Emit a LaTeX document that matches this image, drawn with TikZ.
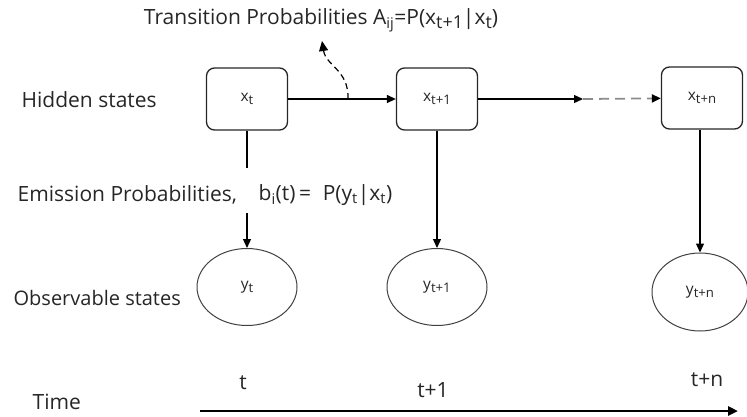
\documentclass[tikz,border=0pt]{standalone}
\usepackage{fontspec}
\setmainfont{Open Sans}
\usetikzlibrary{arrows.meta, shapes.geometric}

\newcommand{\idx}[1]{\raisebox{-0.4ex}{\scalebox{0.85}{#1}}}

\begin{document}
\begin{tikzpicture}[x=1pt, y=-1pt, >={Triangle[length=9pt, width=8pt]}, line width=1.3pt, font=\fontsize{21}{25}\selectfont, text=black!85]
	\tikzstyle{hidden}=[draw=black!85, rounded corners=8pt, minimum width=81pt, minimum height=62pt, inner sep=0pt, font=\fontsize{15.5}{18}\selectfont]
	\tikzstyle{observed}=[draw=black!75, ellipse, line width=1pt, minimum width=100pt, minimum height=77pt, inner sep=0pt, font=\fontsize{15.5}{18}\selectfont]
	\tikzstyle{label}=[inner sep=0pt, anchor=west]

	\useasboundingbox (0,0) rectangle (747,416);

	\node[hidden] at (247, 99)  (xt)  {x\idx{t}};
	\node[hidden] at (437, 99)  (xt1) {x\idx{t+1}};
	\node[hidden] at (702, 98)  (xtn) {x\idx{t+n}};

	\node[observed] at (247, 287) (yt)  {y\idx{t}};
	\node[observed] at (437, 287) (yt1) {y\idx{t+1}};
	\node[observed, minimum width=96pt, minimum height=78pt] at (700, 292) (ytn) {y\idx{t+n}};

	\node[anchor=center, inner sep=0pt] at (321, 20) (trans) {Transition Probabilities A\textsubscript{ij}=P(x\idx{t+1}|x\idx{t})};
	\node[label] at (21, 100)  (hid) {Hidden states};
	\node[label] at (17, 195)  (em)  {Emission Probabilities,};
	\node[label] at (258, 195) (emeq) {b\textsubscript{i}(t)\,=\;\;P(y\textsubscript{t}|x\textsubscript{t})};
	\node[label, font=\fontsize{20}{24}\selectfont] at (13, 298)  (obs) {Observable states};
	\node[label] at (32, 402)  (time) {Time};

	\node at (243, 383) (tt)  {t};
	\node at (433, 390) (tt1) {t+1};
	\node at (707, 380) (ttn) {t+n};

	\coordinate (emtop) at (247, 168);
	\coordinate (embot) at (247, 213);
	\coordinate (dots)  at (583, 99);
	\coordinate (trbase) at (348, 99);
	\coordinate (trtip)  at (322, 41);
	\coordinate (tstart) at (200, 411);
	\coordinate (tend)   at (738, 411);

	\draw[->] (xt) -- (xt1);
	\draw[->] (xt1) -- (dots);
	\draw[dash pattern=on 10pt off 6pt, line width=1.8pt, draw=black!45, -{Triangle[length=9pt, width=8pt, black]}] (dots) -- (xtn);

	\draw (xt) -- (emtop);
	\draw[->] (embot) -- (yt);
	\draw[->] (xt1) -- (yt1);
	\draw[->] (xtn.south -| ytn) -- (ytn);

	\draw[dash pattern=on 6pt off 4pt, line width=1.2pt, -{Triangle[length=10pt, width=9pt]}] (trbase) .. controls (349, 70) and (326, 66) .. (trtip);

	\draw[line width=2.6pt, -{Triangle[length=10pt, width=9pt]}] (tstart) -- (tend);
\end{tikzpicture}
\end{document}
